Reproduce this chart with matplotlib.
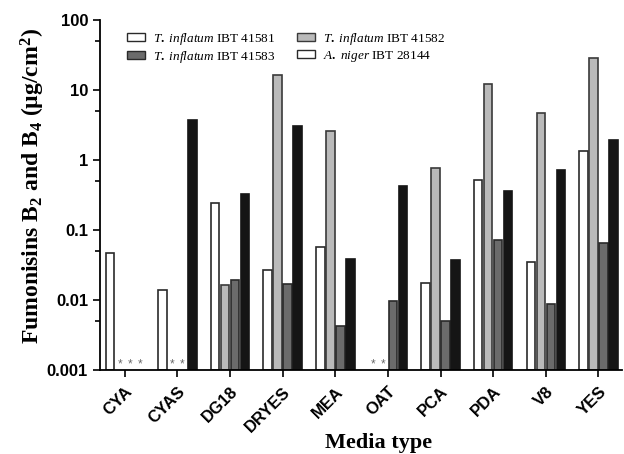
import numpy as np
import matplotlib
matplotlib.use("Agg")
import matplotlib.pyplot as plt
from matplotlib.patches import Patch

plt.rcParams['font.family'] = ['Liberation Sans', 'DejaVu Sans']
plt.rcParams['mathtext.fontset'] = 'custom'
plt.rcParams['mathtext.rm'] = 'Liberation Serif:bold'
plt.rcParams['mathtext.it'] = 'Liberation Serif:italic'
plt.rcParams['mathtext.bf'] = 'Liberation Serif:bold'

media = ['CYA', 'CYAS', 'DG18', 'DRYES', 'MEA', 'OAT', 'PCA', 'PDA', 'V8', 'YES']
nan = np.nan
# valeurs (µg/cm2), nan = non détecté (*)
t41581 = [0.047, 0.014, 0.245, 0.027, 0.057, nan, 0.0177, 0.51, 0.035, 1.33]
t41582 = [nan, nan, 0.0166, 16.5, 2.6, nan, 0.77, 12.0, 4.7, 29.0]
t41583 = [nan, nan, 0.019, 0.017, 0.0042, 0.0096, 0.005, 0.071, 0.0087, 0.066]
aniger = [nan, 3.7, 0.33, 3.1, 0.038, 0.42, 0.037, 0.36, 0.73, 1.95]

series = [
    (t41581, 'white', '#2a2a2a'),
    (t41582, '#bababa', '#3a3a3a'),
    (t41583, '#6b6b6b', '#2a2a2a'),
    (aniger, '#151515', '#151515'),
]
ymin, ymax = 1e-3, 100

fig = plt.figure(figsize=(6.24, 4.54), dpi=100)
ax = fig.add_axes([0.160, 0.185, 0.837, 0.771])

x = np.arange(len(media))
step = 0.19
width = 0.16
for i, (vals, fc, ec) in enumerate(series):
    vals = np.array(vals, dtype=float)
    pos = x + (i - 1.5) * step
    ok = ~np.isnan(vals)
    ax.bar(pos[ok], vals[ok] - ymin, bottom=ymin, width=width,
           color=fc, edgecolor=ec, linewidth=1.2)
    # astérisques pour les valeurs non détectées
    for p in pos[~ok]:
        ax.text(p, 1.2e-3, '*', ha='center', va='center', fontsize=8.5,
                color='#6a6a6a')

ax.set_yscale('log')
ax.set_ylim(ymin, ymax)
ax.set_xlim(-0.475, 9.45)
ax.set_yticks([1e-3, 1e-2, 1e-1, 1, 10, 100])
ax.set_yticklabels(['0.001', '0.01', '0.1', '1', '10', '100'],
                   fontsize=12, fontweight='bold')
ax.set_yticks([5e-3, 5e-2, 5e-1, 5, 50], minor=True)
ax.yaxis.set_minor_formatter(plt.NullFormatter())
ax.tick_params(axis='y', which='major', length=5, width=1.2)
ax.tick_params(axis='y', which='minor', length=3.5, width=1.2)
ax.set_xticks(x)
ax.set_xticklabels(media, rotation=45, ha='right', rotation_mode='anchor',
                   fontsize=12, fontweight='bold')
ax.tick_params(axis='x', length=5, width=1.2, pad=5)

for s in ['top', 'right']:
    ax.spines[s].set_visible(False)
for s in ['left', 'bottom']:
    ax.spines[s].set_linewidth(1.3)

fig.text(0.053, 0.59, 'Fumonisins B$_2$ and B$_4$ (µg/cm$^2$)',
         rotation=90, ha='center', va='center',
         fontfamily='Liberation Serif', fontweight='bold', fontsize=17)
fig.text(0.606, 0.024, 'Media type', ha='center', va='center',
         fontfamily='Liberation Serif', fontweight='bold', fontsize=16)

handles = [
    Patch(facecolor='white', edgecolor='#2a2a2a', label=r'$\it{T.\ inflatum}$ IBT 41581'),
    Patch(facecolor='#6b6b6b', edgecolor='#2a2a2a', label=r'$\it{T.\ inflatum}$ IBT 41583'),
    Patch(facecolor='#bababa', edgecolor='#3a3a3a', label=r'$\it{T.\ inflatum}$ IBT 41582'),
    Patch(facecolor='white', edgecolor='#2a2a2a', label=r'$\it{A.\ niger}$ IBT 28144'),
]
leg = ax.legend(handles=handles, ncol=2, frameon=False, loc='upper left',
                bbox_to_anchor=(127 / 624, 1 - 31 / 454),
                bbox_transform=fig.transFigure,
                prop={'family': 'Liberation Serif', 'size': 9.5},
                handlelength=1.35, handleheight=0.55, columnspacing=1.6,
                labelspacing=0.12, handletextpad=0.65,
                borderpad=0, borderaxespad=0)

fig.savefig('out.png', dpi=100)
